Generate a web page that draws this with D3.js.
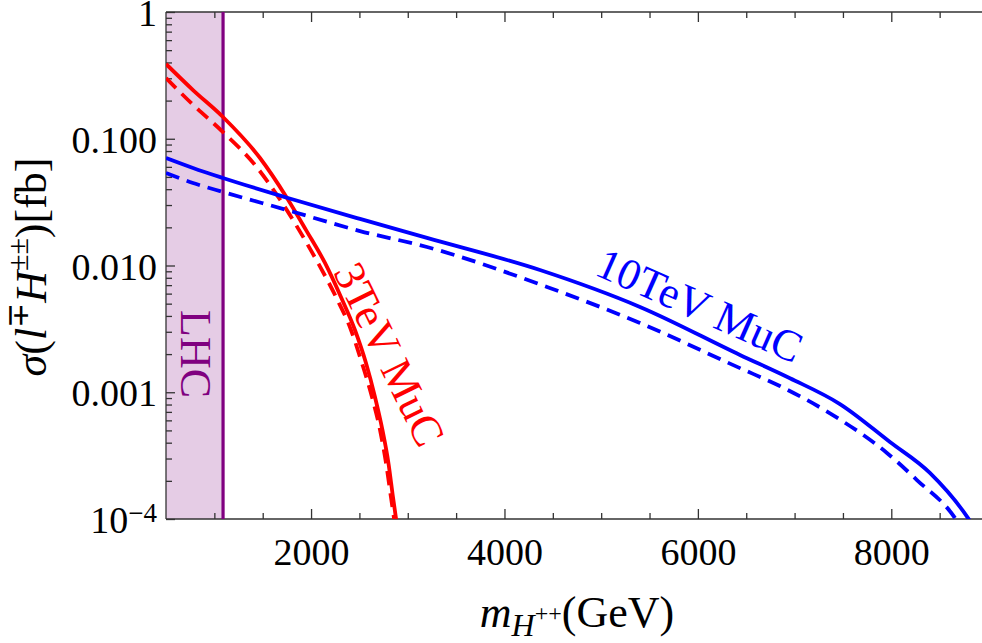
<!DOCTYPE html>
<html>
<head>
<meta charset="utf-8">
<script src="https://cdn.jsdelivr.net/npm/d3@7"></script>
<style>
  body { margin: 0; background: #fff; }
  svg { display: block; font-family: "Liberation Serif", "Times New Roman", serif; }
</style>
</head>
<body>
<div id="chart"></div>
<script>
// mass points (GeV) and cross sections (fb)
const red3SolidM = [500, 782, 1089, 1472, 1751, 1947, 2144, 2309, 2454, 2568, 2661, 2738, 2800, 2847, 2888];
const red3SolidS = [0.389, 0.241, 0.1485, 0.0705, 0.0341, 0.0191, 0.01047, 0.00564, 0.0031, 0.0017, 0.000918, 0.000504, 0.000277, 0.000149, 0.0000897];

const red3DashM = [500, 782, 1089, 1420, 1668, 1875, 2072, 2258, 2413, 2526, 2630, 2713, 2775, 2826, 2868];
const red3DashS = [0.301, 0.1846, 0.113, 0.0621, 0.0341, 0.0191, 0.01047, 0.00564, 0.0031, 0.0017, 0.000918, 0.000504, 0.000277, 0.000149, 0.0000897];

const blue10SolidM = [500, 779, 1089, 1761, 2506, 3199, 4367, 5401, 6435, 6952, 7469, 7986, 8399, 8792, 8833];
const blue10SolidS = [0.0705, 0.0588, 0.049, 0.0341, 0.0233, 0.0165, 0.00921, 0.00471, 0.00197, 0.00129, 0.000807, 0.000405, 0.000231, 0.000102, 0.0000914];

const blue10DashM = [500, 779, 1089, 1751, 2506, 3199, 4440, 5401, 6435, 6848, 7396, 7955, 8265, 8658, 8699];
const blue10DashS = [0.0537, 0.0448, 0.038, 0.0274, 0.0187, 0.014, 0.00677, 0.00352, 0.00155, 0.00112, 0.00066, 0.000332, 0.000203, 0.000102, 0.0000914];

// LHC excluded region
const lhcBound = 1090;

// axis ticks
const xMajorTicks = [2000, 4000, 6000, 8000];
const xTickLabels = ["2000", "4000", "6000", "8000"];
const yMajorTicks = [1e-4, 1e-3, 1e-2, 1e-1, 1];
const yTickLabels = ["10-4", "0.001", "0.010", "0.100", "1"];

const W = 982, H = 643;
const margin = {top: 12, right: -6, bottom: 124, left: 166};
const width = W - margin.left - margin.right,
      height = H - margin.top - margin.bottom;

const svg = d3.select("#chart").append("svg")
    .attr("width", W)
    .attr("height", H);

const g = svg.append("g")
    .attr("transform", `translate(${margin.left},${margin.top})`);

const x = d3.scaleLinear().domain([500, 9000]).range([0, width]);
const y = d3.scaleLog().domain([1e-4, 1]).range([height, 0]);

g.append("clipPath").attr("id", "clip")
  .append("rect").attr("width", width).attr("height", height);

// LHC band
g.append("rect")
  .attr("x", x(500))
  .attr("y", 0)
  .attr("width", x(lhcBound) - x(500))
  .attr("height", height)
  .attr("fill", "#e5cce5");

// minor ticks
const xMinor = d3.range(1000, 9000, 500).filter(v => !xMajorTicks.includes(v));
const yMinor = [];
[-4, -3, -2, -1].forEach(n => { for (let k = 2; k <= 9; k++) yMinor.push(k * Math.pow(10, n)); });

const axisColor = "#333";

function styleAxis(sel) {
  sel.select(".domain").remove();
  sel.selectAll(".tick line").attr("stroke", axisColor).attr("stroke-width", 1.3);
}

// bottom
g.append("g").attr("transform", `translate(0,${height})`)
  .call(d3.axisBottom(x).tickValues(xMinor).tickSize(-6).tickFormat(""))
  .call(styleAxis);
const xAx = g.append("g").attr("transform", `translate(0,${height})`)
  .call(d3.axisBottom(x).tickValues(xMajorTicks).tickSize(-10)
        .tickFormat((d, i) => xTickLabels[i]))
  .call(styleAxis);
xAx.selectAll("text")
  .attr("y", 46).attr("dy", null)
  .attr("fill", "#000")
  .style("font-size", "38px")
  .style("font-family", "'Liberation Serif', serif");

// top (mirror)
g.append("g")
  .call(d3.axisTop(x).tickValues(xMinor).tickSize(-6).tickFormat(""))
  .call(styleAxis);
g.append("g")
  .call(d3.axisTop(x).tickValues(xMajorTicks).tickSize(-10).tickFormat(""))
  .call(styleAxis);

// left
g.append("g")
  .call(d3.axisLeft(y).tickValues(yMinor).tickSize(-6).tickFormat(""))
  .call(styleAxis);
const yAx = g.append("g")
  .call(d3.axisLeft(y).tickValues(yMajorTicks).tickSize(-9)
        .tickFormat((d, i) => yTickLabels[i]))
  .call(styleAxis);
yAx.selectAll("text")
  .attr("x", -9).attr("dy", "0.36em")
  .attr("fill", "#000")
  .style("font-size", "38px")
  .style("font-family", "'Liberation Serif', serif");
// power-of-ten label
yAx.selectAll("text").filter(d => d === 1e-4).each(function() {
  const t = d3.select(this).text("");
  t.append("tspan").text("10");
  t.append("tspan").attr("dy", "-0.42em").style("font-size", "27px").text("\u22124");
});

// frame
g.append("line").attr("x1", 0).attr("x2", width).attr("y1", 0).attr("y2", 0)
  .attr("stroke", axisColor).attr("stroke-width", 1.3);
g.append("line").attr("x1", 0).attr("x2", width).attr("y1", height).attr("y2", height)
  .attr("stroke", axisColor).attr("stroke-width", 1.3);
g.append("line").attr("x1", 0).attr("x2", 0).attr("y1", 0).attr("y2", height)
  .attr("stroke", axisColor).attr("stroke-width", 1.3);

// LHC bound line
g.append("line")
  .attr("x1", x(lhcBound)).attr("x2", x(lhcBound))
  .attr("y1", 0).attr("y2", height)
  .attr("stroke", "#800080").attr("stroke-width", 3.2);

// curves
const line = d3.line()
  .x(d => x(d[0]))
  .y(d => y(d[1]))
  .curve(d3.curveMonotoneX);

const series = [
  {m: red3SolidM, s: red3SolidS, color: "#ff0000", dash: null},
  {m: red3DashM, s: red3DashS, color: "#ff0000", dash: "14,8"},
  {m: blue10SolidM, s: blue10SolidS, color: "#0000ff", dash: null},
  {m: blue10DashM, s: blue10DashS, color: "#0000ff", dash: "14,8"}
];

const curves = g.append("g").attr("clip-path", "url(#clip)");
series.forEach(sr => {
  curves.append("path")
    .datum(d3.zip(sr.m, sr.s))
    .attr("d", line)
    .attr("fill", "none")
    .attr("stroke", sr.color)
    .attr("stroke-width", 3.8)
    .attr("stroke-dasharray", sr.dash);
});

// in-plot labels
function label(mass, sigma, angle, txt, color) {
  g.append("text")
    .attr("transform", `translate(${x(mass)},${y(sigma)}) rotate(${angle})`)
    .attr("text-anchor", "middle")
    .attr("dy", "0.35em")
    .attr("fill", color)
    .style("font-size", "44px")
    .text(txt);
}
label(810, 0.002, 90, "LHC", "#800080");
label(2816, 0.002, 64, "3TeV MuC", "#ff0000");
label(6021, 0.00488, 24, "10TeV MuC", "#0000ff");

// axis titles
const xt = svg.append("text")
  .attr("x", 577).attr("y", 627)
  .attr("text-anchor", "middle")
  .style("font-size", "44px");
xt.append("tspan").style("font-style", "italic").text("m");
xt.append("tspan").style("font-style", "italic").style("font-size", "32px").attr("dy", 9).text("H");
xt.append("tspan").style("font-size", "24px").attr("dy", -15).text("++");
xt.append("tspan").attr("dy", 6).text("(GeV)");

const yt = svg.append("text")
  .attr("transform", "translate(46,267) rotate(-90)")
  .attr("text-anchor", "middle")
  .style("font-size", "44px");
yt.append("tspan").style("font-style", "italic").text("\u03c3");
yt.append("tspan").text("(");
yt.append("tspan").style("font-style", "italic").text("l");
yt.append("tspan").style("font-size", "30px").attr("dy", -18).text("\u2213");
yt.append("tspan").style("font-style", "italic").attr("dy", 18).text("H");
yt.append("tspan").style("font-size", "30px").attr("dy", -18).text("\u00b1\u00b1");
yt.append("tspan").attr("dy", 18).text(")[fb]");
</script>
</body>
</html>
